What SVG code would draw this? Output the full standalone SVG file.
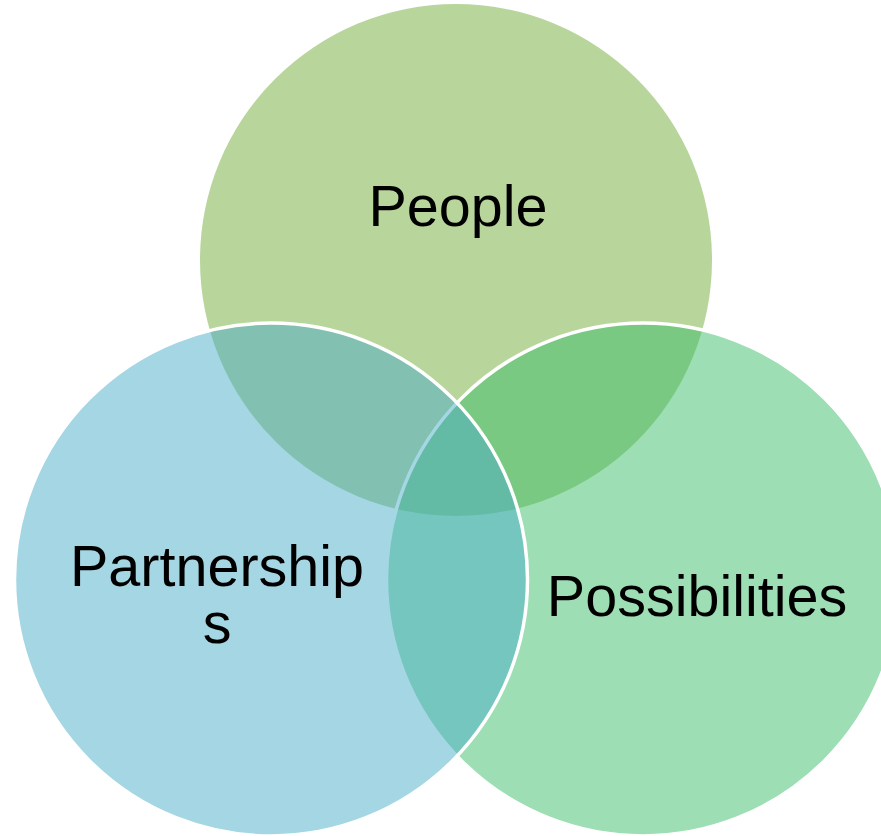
<svg xmlns="http://www.w3.org/2000/svg" width="881" height="836" viewBox="0 0 881 836">
  <style>
    .lbl { font-family: "Liberation Sans", Arial, sans-serif; font-size: 57.5px; fill: #000000; text-anchor: middle; }
    .ring { stroke: #FFFFFF; stroke-width: 3.5; fill-opacity: 0.5; }
  </style>
  <rect width="881" height="836" fill="#FFFFFF"/>
  <g id="node-people">
    <circle cx="456" cy="260" r="256" fill="#71AB37" fill-opacity="0.5"/>
  </g>
  <g id="node-possibilities">
    <circle class="ring" cx="643" cy="579.5" r="256.5" fill="#3BBD69"/>
  </g>
  <g id="node-partnerships">
    <circle class="ring" cx="271" cy="579.5" r="256.5" fill="#4BADC7"/>
  </g>
  <g id="labels">
    <text class="lbl" x="458" y="226">People</text>
    <text class="lbl" x="217" y="586">Partnership</text>
    <text class="lbl" x="217" y="643">s</text>
    <text class="lbl" x="697" y="616">Possibilities</text>
  </g>
  <g id="connectors"/>
</svg>
